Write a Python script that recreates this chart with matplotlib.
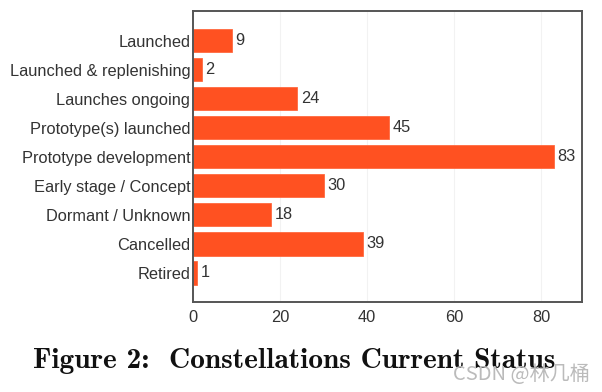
import matplotlib
matplotlib.use("Agg")
import matplotlib.pyplot as plt
from matplotlib.font_manager import FontProperties
import os

categories = ["Launched", "Launched & replenishing", "Launches ongoing",
              "Prototype(s) launched", "Prototype development",
              "Early stage / Concept", "Dormant / Unknown", "Cancelled", "Retired"]
counts = [9, 2, 24, 45, 83, 30, 18, 39, 1]
xticks = [0, 20, 40, 60, 80]

plt.rcParams['font.family'] = ['Liberation Sans', 'DejaVu Sans']

fig = plt.figure(figsize=(6.02, 3.92), dpi=100)
ax = fig.add_axes([193/602, 1 - 302/392, 389/602, 291/392])

pos = list(range(len(categories)))
bars = ax.barh(pos, counts, height=0.8, color='#FF5121', edgecolor='#FF6A40', linewidth=0.6, zorder=2)
for p, v in zip(pos, counts):
    ax.annotate(str(v), (v, p), xytext=(2.5, 0), textcoords='offset points',
                va='center', ha='left', fontsize=11.8, color='#333333')

ax.set_ylim(9.0, -1.02)
ax.set_xlim(0, 89.4)
ax.set_yticks(pos)
ax.set_yticklabels(categories)
ax.set_xticks(xticks)
ax.tick_params(length=0, labelsize=11.8, labelcolor='#333333', pad=2)
ax.tick_params(axis='x', pad=6)
ax.grid(axis='x', color='#f2f2f2', linewidth=0.8, zorder=0)
for s in ax.spines.values():
    s.set_color('#555555')
    s.set_linewidth(1.4)

cm = os.path.join(matplotlib.get_data_path(), 'fonts', 'ttf', 'cmb10.ttf')
fig.text(33/602, 1 - 361/392, "Figure 2:  Constellations Current Status",
         fontproperties=FontProperties(fname=cm, size=21.2), va='center', ha='left', color='#111111')
fig.text(590/602, 1 - 375/392, "CSDN @林几桶", family=['Noto Sans CJK SC', 'DejaVu Sans'],
         fontsize=14.5, color='#bbbbbb', ha='right', va='center')

fig.savefig("out.png", dpi=100)
